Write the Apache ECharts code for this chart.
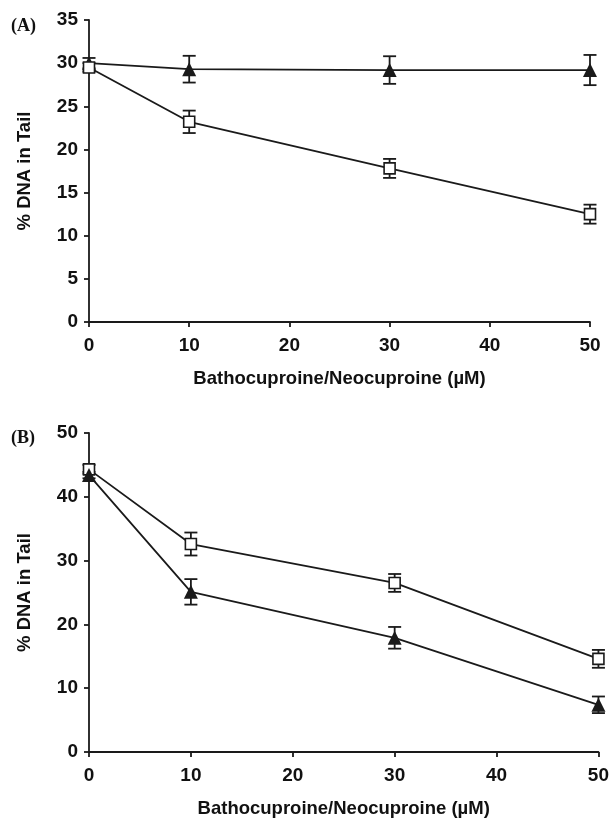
<!DOCTYPE html>
<head>
    <meta charset="utf-8">
    <script type="text/javascript" src="https://cdn.jsdelivr.net/npm/echarts@6/dist/echarts.min.js"></script>
</head>
<body style="margin: 0; background: #fff">
<div id="container" style="width: 612px; height: 820px"></div>
<script type="text/javascript">
    // concentration (µM)
    var doses = [0, 10, 30, 50];

    // panel A
    var aTriangle = [30.0, 29.3, 29.2, 29.2];
    var aTriangleErr = [0.6, 1.55, 1.6, 1.75];
    var aSquare = [29.5, 23.2, 17.8, 12.5];
    var aSquareErr = [0.5, 1.3, 1.1, 1.1];

    // panel B
    var bSquare = [44.3, 32.6, 26.5, 14.6];
    var bSquareErr = [0.7, 1.8, 1.4, 1.4];
    var bTriangle = [43.4, 25.1, 17.9, 7.4];
    var bTriangleErr = [0.5, 2.0, 1.7, 1.3];

    var dom = document.getElementById("container");
    var myChart = echarts.init(dom);
    var ink = '#1a1a1a';
    var font = 'Liberation Sans, Arial, sans-serif';

    function pairs(ys) {
        return doses.map(function (d, i) { return [d, ys[i]]; });
    }
    function errData(ys, es) {
        return doses.map(function (d, i) { return [d, ys[i] + es[i], ys[i] - es[i]]; });
    }
    function errRender(params, api) {
        var x = api.value(0);
        var top = api.coord([x, api.value(1)]);
        var bot = api.coord([x, api.value(2)]);
        var w = 6.5;
        var st = { stroke: ink, lineWidth: 1.8 };
        return {
            type: 'group',
            children: [
                { type: 'line', shape: { x1: top[0], y1: top[1], x2: bot[0], y2: bot[1] }, style: st },
                { type: 'line', shape: { x1: top[0] - w, y1: top[1], x2: top[0] + w, y2: top[1] }, style: st },
                { type: 'line', shape: { x1: bot[0] - w, y1: bot[1], x2: bot[0] + w, y2: bot[1] }, style: st }
            ]
        };
    }
    function errSeries(idx, ys, es) {
        return {
            type: 'custom', xAxisIndex: idx, yAxisIndex: idx,
            renderItem: errRender, data: errData(ys, es), z: 1, silent: true
        };
    }
    function lineSeries(idx, ys, shape) {
        var tri = shape === 'tri';
        return {
            type: 'line', xAxisIndex: idx, yAxisIndex: idx,
            data: pairs(ys),
            symbol: tri ? 'triangle' : 'rect',
            symbolSize: tri ? 14 : 11,
            showAllSymbol: true,
            lineStyle: { color: ink, width: 1.8 },
            itemStyle: tri ? { color: ink, borderColor: ink, borderWidth: 0 }
                           : { color: '#fff', borderColor: ink, borderWidth: 1.6 },
            z: 3, animation: false
        };
    }
    function xAxis(idx) {
        return {
            type: 'value', gridIndex: idx, min: 0, max: 50, interval: 10,
            name: 'Bathocuproine/Neocuproine (\u00b5M)',
            nameLocation: 'middle', nameGap: 47,
            nameTextStyle: { fontFamily: font, fontWeight: 'bold', fontSize: 18.5, color: '#111' },
            axisLine: { onZero: false, lineStyle: { color: ink, width: 1.8 } },
            axisTick: { show: true, length: 5, lineStyle: { color: ink, width: 1.8 } },
            axisLabel: { margin: 14, fontFamily: font, fontWeight: 'bold', fontSize: 19, color: '#111' },
            splitLine: { show: false }
        };
    }
    function yAxis(idx, max, step) {
        return {
            type: 'value', gridIndex: idx, min: 0, max: max, interval: step,
            name: '% DNA in Tail',
            nameLocation: 'middle', nameGap: 55, nameRotate: 90,
            nameTextStyle: { fontFamily: font, fontWeight: 'bold', fontSize: 18.5, color: '#111' },
            axisLine: { show: true, lineStyle: { color: ink, width: 1.8 } },
            axisTick: { show: true, length: 5, lineStyle: { color: ink, width: 1.8 } },
            axisLabel: { margin: 11, fontFamily: font, fontWeight: 'bold', fontSize: 19, color: '#111' },
            splitLine: { show: false }
        };
    }

    var serif = 'Liberation Serif, Times New Roman, serif';
    var option = {
        animation: false,
        title: [
            { text: '(A)', left: 6, top: 12, textStyle: { fontFamily: serif, fontWeight: 'bold', fontSize: 18, color: '#111' } },
            { text: '(B)', left: 6, top: 424, textStyle: { fontFamily: serif, fontWeight: 'bold', fontSize: 18, color: '#111' } }
        ],
        grid: [
            { left: 89, right: 22, top: 20, bottom: 498 },
            { left: 89, right: 13, top: 433, bottom: 68 }
        ],
        xAxis: [xAxis(0), xAxis(1)],
        yAxis: [yAxis(0, 35, 5), yAxis(1, 50, 10)],
        series: [
            errSeries(0, aTriangle, aTriangleErr),
            errSeries(0, aSquare, aSquareErr),
            lineSeries(0, aTriangle, 'tri'),
            lineSeries(0, aSquare, 'sq'),
            errSeries(1, bSquare, bSquareErr),
            errSeries(1, bTriangle, bTriangleErr),
            lineSeries(1, bSquare, 'sq'),
            lineSeries(1, bTriangle, 'tri')
        ]
    };
    myChart.setOption(option);
</script>
</body>
</html>
